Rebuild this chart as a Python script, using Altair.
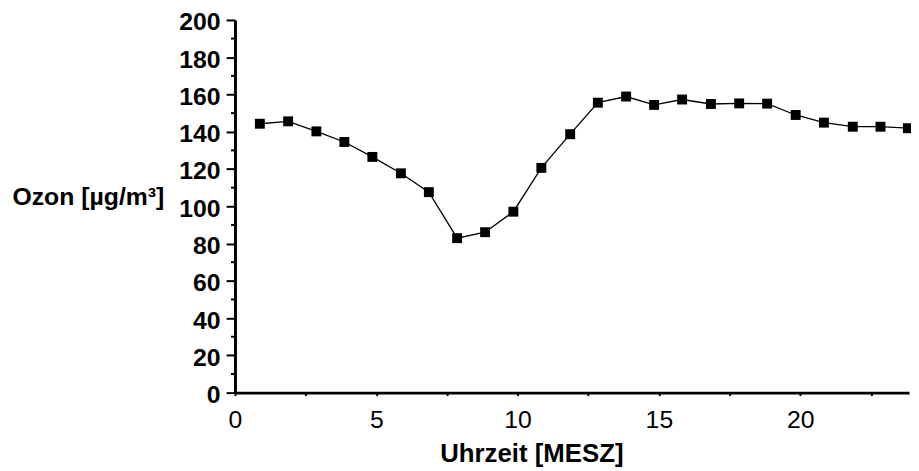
import altair as alt
import pandas as pd

# Uhrzeit (Stunden, MESZ) der Messpunkte
uhrzeit = [0.88, 1.88, 2.88, 3.87, 4.86, 5.87, 6.86, 7.86, 8.85, 9.85, 10.84, 11.86,
           12.84, 13.84, 14.83, 15.82, 16.84, 17.84, 18.83, 19.84, 20.84, 21.86, 22.84, 23.81]
# Ozon [µg/m³]
ozon = [144.3, 145.6, 140.2, 134.5, 126.5, 117.7, 107.6, 82.9, 86.1, 97.1, 120.6, 138.7,
        155.6, 158.9, 154.4, 157.3, 154.9, 155.2, 155.1, 149.0, 144.9, 142.7, 142.7, 141.9]

x_ticks = [0, 2.5, 5, 7.5, 10, 12.5, 15, 17.5, 20, 22.5]
y_ticks = [0, 20, 40, 60, 80, 100, 120, 140, 160, 180, 200]
y_minor = [10, 30, 50, 70, 90, 110, 130, 150, 170, 190]

df = pd.DataFrame({"Uhrzeit": uhrzeit, "Ozon": ozon})
df_minor = pd.DataFrame({"Ozon": y_minor})

FONT = "Liberation Sans"

x_enc = alt.X(
    "Uhrzeit:Q",
    scale=alt.Scale(domain=[0, 23.85], nice=False, zero=False),
    axis=alt.Axis(
        title="Uhrzeit [MESZ]",
        values=x_ticks,
        labelExpr="datum.value % 5 == 0 ? datum.label : ''",
        grid=False,
        domainColor="black", domainWidth=3,
        tickColor="black", tickWidth=2, tickSize=3,
        labelFont=FONT, labelFontSize=25, labelColor="black",
        labelPadding=12, labelFlush=False, labelOverlap=False,
        titleFont=FONT, titleFontSize=26, titleFontWeight="bold", titleColor="black",
        titleAnchor="start", titleAlign="center", titleBaseline="alphabetic",
        titleX=299, titleY=69,
    ),
)

y_scale = alt.Scale(domain=[0, 200], nice=False)

y_axis = alt.Axis(
    title="Ozon [µg/m³]",
    values=y_ticks,
    grid=False,
    domainColor="black", domainWidth=3,
    tickColor="black", tickWidth=2, tickSize=9,
    labelFont=FONT, labelFontSize=25, labelFontWeight="bold", labelColor="black",
    labelPadding=6, labelOverlap=False, labelOffset=2, labelFlush=False,
    labelSeparation=0,
    titleFont=FONT, titleFontSize=25, titleFontWeight="bold", titleColor="black",
    titleAngle=0, titleAlign="left", titleBaseline="alphabetic",
    titleX=-225, titleY=186,
)

y_enc = alt.Y("Ozon:Q", scale=y_scale, axis=y_axis)

minor = alt.Chart(df_minor).mark_rule(color="black", strokeWidth=2).encode(
    y=y_enc,
    x=alt.value(-4),
    x2=alt.value(0),
)

line = alt.Chart(df).mark_line(color="black", strokeWidth=1.3).encode(x=x_enc, y=y_enc)
points = alt.Chart(df).mark_point(
    shape="square", filled=True, color="black", opacity=1, size=100
).encode(x=x_enc, y=y_enc)

chart = (
    alt.layer(line, points, minor)
    .properties(
        width=680,
        height=376,
        autosize=alt.AutoSizeParams(type="none"),
        padding={"left": 229, "top": 10, "right": 2, "bottom": 76},
        background="white",
    )
    .configure_view(stroke=None)
    .configure_axis(labelOverlap=False)
)

chart.save("out.html", embed_options={"renderer": "svg", "actions": False})
